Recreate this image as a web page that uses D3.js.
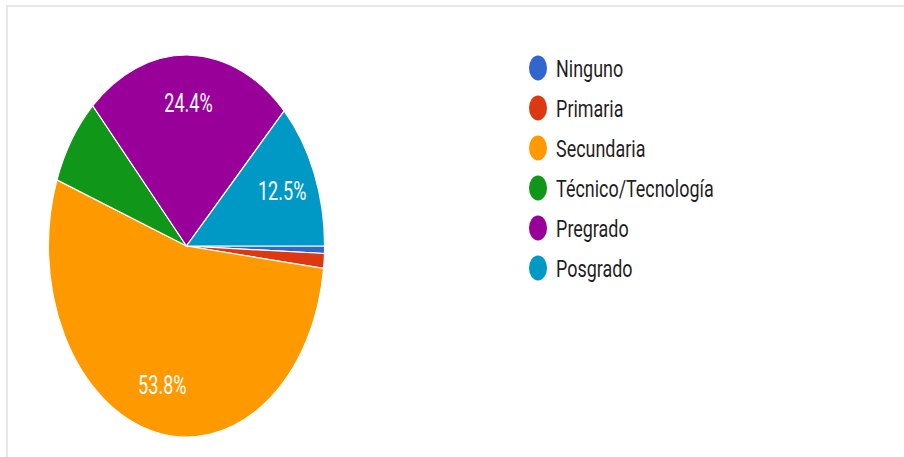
<!DOCTYPE html>
<html>
<head>
<meta charset="utf-8">
<script src="https://cdn.jsdelivr.net/npm/d3@7"></script>
<style>
  body { margin: 0; background: #fff; }
  text { font-family: Roboto, "Liberation Sans", Arial, sans-serif; }
</style>
</head>
<body>
<div id="chart"></div>
<script>
// data (response counts)
var categories = ["Ninguno", "Primaria", "Secundaria", "Técnico/Tecnología", "Pregrado", "Posgrado"];
var counts = [1, 2, 86, 12, 39, 20];
var colors = ["#3366cc", "#dc3912", "#ff9900", "#109618", "#990099", "#0099c6"];

var svgWidth = 904;
var svgHeight = 457;

// the picture is squeezed horizontally, so draw in a wider space and scale x
var sx = 0.723;

var svg = d3.select("#chart")
    .append("svg")
    .attr("width", svgWidth)
    .attr("height", svgHeight);

// frame lines
svg.append("line")
    .attr("x1", 6).attr("x2", svgWidth)
    .attr("y1", 6).attr("y2", 6)
    .attr("stroke", "#e6e6e6")
    .attr("stroke-width", 2);
svg.append("line")
    .attr("x1", 7).attr("x2", 7)
    .attr("y1", 6).attr("y2", svgHeight)
    .attr("stroke", "#e6e6e6")
    .attr("stroke-width", 2);

var chartGroup = svg.append("g")
    .attr("transform", `scale(${sx}, 1)`);

var radius = 191;
var cx = 186.5 / sx;
var cy = 246;

var total = d3.sum(counts);
var data = categories.map(function(c, i) {
    return { name: c, value: counts[i], color: colors[i] };
});

var pie = d3.pie()
    .sort(null)
    .value(function(d) { return d.value; })
    .startAngle(Math.PI / 2)
    .endAngle(Math.PI / 2 + 2 * Math.PI);

var arc = d3.arc().innerRadius(0).outerRadius(radius);
var labelArc = d3.arc().innerRadius(radius * 0.75).outerRadius(radius * 0.75);

var pieGroup = chartGroup.append("g")
    .attr("transform", `translate(${cx}, ${cy})`);

pieGroup.selectAll("path")
    .data(pie(data))
    .enter()
    .append("path")
    .attr("d", arc)
    .attr("fill", function(d) { return d.data.color; })
    .attr("stroke", "#fff")
    .attr("stroke-width", 1.2)
    .attr("vector-effect", "non-scaling-stroke");

// percentage labels on the large slices
pieGroup.selectAll(".pct")
    .data(pie(data).filter(function(d) { return d.data.value / total > 0.1; }))
    .enter()
    .append("text")
    .attr("class", "pct")
    .attr("transform", function(d) { return `translate(${labelArc.centroid(d)})`; })
    .attr("text-anchor", "middle")
    .attr("dy", "0.36em")
    .attr("font-size", "25px")
    .attr("fill", "#fff")
    .text(function(d) { return (d.data.value / total * 100).toFixed(1) + "%"; });

// legend
var legend = chartGroup.append("g")
    .attr("transform", `translate(${538 / sx}, 68)`);

var rows = legend.selectAll("g")
    .data(data)
    .enter()
    .append("g")
    .attr("transform", function(d, i) { return `translate(0, ${i * 40})`; });

rows.append("circle")
    .attr("r", 12.5)
    .attr("fill", function(d) { return d.color; });

rows.append("text")
    .attr("x", 25)
    .attr("dy", "0.36em")
    .attr("font-size", "24.8px")
    .attr("fill", "#1f1f1f")
    .text(function(d) { return d.name; });
</script>
</body>
</html>
